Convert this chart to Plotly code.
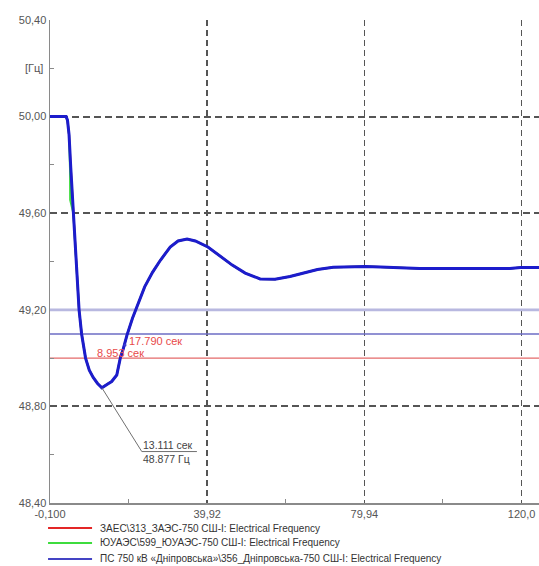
import plotly.graph_objects as go

# ---------------- data ----------------
time_dnipro = [-0.1, 4.0, 4.35, 4.75, 5.18, 5.5, 5.84, 6.27, 6.55, 7.3, 7.95, 8.953, 9.9, 10.9, 12.0,
               13.111, 14.6, 15.6, 16.9, 17.79, 18.5, 19.5, 20.9, 22.8, 24.0, 26.0, 28.0, 30.5, 32.5,
               34.8, 36.9, 40.1, 43.2, 46.3, 49.6, 53.4, 57.2, 61.0, 64.0, 68.0, 72.0, 76.4, 80.2,
               84.0, 89.0, 94.0, 102.0, 117.0, 119.7, 124.4]
freq_dnipro = [50.0, 50.0, 49.985, 49.925, 49.79, 49.70, 49.60, 49.49, 49.405, 49.20, 49.10, 49.0, 48.95,
               48.92, 48.895, 48.877, 48.893, 48.903, 48.93, 49.0, 49.035, 49.095, 49.165, 49.24, 49.295,
               49.355, 49.405, 49.46, 49.485, 49.493, 49.485, 49.46, 49.423, 49.385, 49.352, 49.328,
               49.327, 49.338, 49.35, 49.367, 49.376, 49.379, 49.379, 49.377, 49.373, 49.371, 49.371,
               49.371, 49.375, 49.375]

time_zaes = [-0.1, 4.0, 4.35, 4.75, 5.18, 5.5, 5.84, 6.27, 6.55, 7.3, 7.95, 8.953, 9.9, 10.9, 12.0,
             13.111, 14.6, 15.6, 16.9, 17.79, 18.5, 19.5, 20.9, 22.8, 24.0, 26.0, 28.0, 30.5, 32.5,
             34.8, 36.9, 40.1, 43.2, 46.3, 49.6, 53.4, 57.2, 61.0, 64.0, 68.0, 72.0, 76.4, 80.2,
             84.0, 89.0, 94.0, 102.0, 117.0, 119.7, 124.4]
freq_zaes = [50.0, 50.0, 49.985, 49.925, 49.79, 49.70, 49.60, 49.49, 49.405, 49.20, 49.10, 49.0, 48.95,
             48.92, 48.895, 48.877, 48.893, 48.903, 48.93, 49.0, 49.035, 49.095, 49.165, 49.24, 49.295,
             49.355, 49.405, 49.46, 49.485, 49.493, 49.485, 49.46, 49.423, 49.385, 49.352, 49.328,
             49.327, 49.338, 49.35, 49.367, 49.376, 49.379, 49.379, 49.377, 49.373, 49.371, 49.371,
             49.371, 49.375, 49.375]

time_yuaes = [-0.1, 4.0, 4.35, 4.75, 5.0, 5.03, 5.84, 6.27, 6.55, 7.3, 7.95, 8.953, 9.9, 10.9, 12.0,
              13.111, 14.6, 15.6, 16.9, 17.79, 18.5, 19.5, 20.9, 22.8, 24.0, 26.0, 28.0, 30.5, 32.5,
              34.8, 36.9, 40.1, 43.2, 46.3, 49.6, 53.4, 57.2, 61.0, 64.0, 68.0, 72.0, 76.4, 80.2,
              84.0, 89.0, 94.0, 102.0, 117.0, 119.7, 124.4]
freq_yuaes = [50.0, 50.0, 49.985, 49.925, 49.78, 49.655, 49.60, 49.49, 49.405, 49.20, 49.10, 49.0, 48.95,
              48.92, 48.895, 48.877, 48.893, 48.903, 48.93, 49.0, 49.035, 49.095, 49.165, 49.24, 49.295,
              49.355, 49.405, 49.46, 49.485, 49.493, 49.485, 49.46, 49.423, 49.385, 49.352, 49.328,
              49.327, 49.338, 49.35, 49.367, 49.376, 49.379, 49.379, 49.377, 49.373, 49.371, 49.371,
              49.371, 49.375, 49.375]

series_names = [
    "ЗАЕС\\313_ЗАЭС-750 СШ-I: Electrical Frequency",
    "ЮУАЭС\\599_ЮУАЭС-750 СШ-I: Electrical Frequency",
    "ПС 750 кВ «Дніпровська»\\356_Дніпровська-750 СШ-I: Electrical Frequency",
]
series_colors = ["#e32626", "#3ddc3d", "#1c1ccc"]
legend_colors = ["#e32626", "#3ddc3d", "#4444c4"]

x_range = [-0.1, 124.4]
x_tickvals = [-0.1, 39.92, 79.94, 119.96]
x_ticktext = ["-0,100", "39,92", "79,94", "120,0"]
x_minor = [19.91, 59.93, 99.95]
y_range = [48.4, 50.4]
y_tickvals = [48.4, 48.8, 49.2, 49.6, 50.0, 50.4]
y_ticktext = ["48,40", "48,80", "49,20", "49,60", "50,00", "50,40"]
y_minor = [48.6, 49.0, 49.4, 49.8, 50.2]
y_unit = "[Гц]"

threshold_vals = [49.2, 49.1, 49.0]
threshold_colors = ["#b8b8e0", "#6c6cc4", "#e46a6a"]
threshold_widths = [2.8, 1.5, 1.3]

cross_times = [8.953, 17.790]
min_time = 13.111
min_freq = 48.877

FONT = "Liberation Sans, Arial, sans-serif"

fig = go.Figure()
# threshold lines (above the grid, below the curves)
for v, c, w in zip(threshold_vals, threshold_colors, threshold_widths):
    fig.add_trace(go.Scatter(x=x_range, y=[v, v], mode="lines", line=dict(color=c, width=w),
                             showlegend=False, hoverinfo="skip"))

fig.add_trace(go.Scatter(x=time_zaes, y=freq_zaes, mode="lines",
                         line=dict(color=series_colors[0], width=2), name=series_names[0], showlegend=False))
fig.add_trace(go.Scatter(x=time_yuaes, y=freq_yuaes, mode="lines",
                         line=dict(color=series_colors[1], width=2), name=series_names[1], showlegend=False))
fig.add_trace(go.Scatter(x=time_dnipro, y=freq_dnipro, mode="lines",
                         line=dict(color=series_colors[2], width=3), name=series_names[2], showlegend=False))
# small marker dot near the second crossing label
fig.add_trace(go.Scatter(x=[19.0], y=[49.054], mode="markers",
                         marker=dict(color="#3a3ad0", size=3), showlegend=False, hoverinfo="skip"))

shapes = []
# leader line for minimum
shapes.append(dict(type="line", xref="x", yref="y", x0=min_time, y0=min_freq, x1=23.27, y1=48.613,
                   line=dict(color="#707070", width=1)))
shapes.append(dict(type="line", xref="x", yref="y", x0=23.27, y0=48.613, x1=37.3, y1=48.613,
                   line=dict(color="#707070", width=1)))

# custom legend
legend_y = [-0.0518, -0.0828, -0.1159]
for yy, c in zip(legend_y, legend_colors):
    shapes.append(dict(type="line", xref="paper", yref="paper", x0=-0.004, x1=0.086, y0=yy, y1=yy,
                       line=dict(color=c, width=2)))

annotations = [
    dict(xref="paper", x=0, y=50.2, yref="y", text=y_unit, showarrow=False, xanchor="right",
         xshift=-5, font=dict(family=FONT, size=11, color="#555555")),
    dict(x=11.4, y=49.021, text=f"{cross_times[0]:.3f} сек", showarrow=False, xanchor="left",
         yanchor="middle", font=dict(family=FONT, size=11, color="#e84a4a")),
    dict(x=19.5, y=49.07, text=f"{cross_times[1]:.3f} сек", showarrow=False, xanchor="left",
         yanchor="middle", font=dict(family=FONT, size=11, color="#e84a4a")),
    dict(x=23.27, y=48.613, text=f"{min_time:.3f} сек", showarrow=False, xanchor="left",
         yanchor="bottom", borderpad=0, font=dict(family=FONT, size=10.5, color="#444444")),
    dict(x=23.27, y=48.613, text=f"{min_freq:.3f} Гц", showarrow=False, xanchor="left",
         yanchor="top", borderpad=0, font=dict(family=FONT, size=10.5, color="#444444")),
]
for yy, name in zip(legend_y, series_names):
    annotations.append(dict(xref="paper", yref="paper", x=0.098, y=yy, text=name, showarrow=False,
                            xanchor="left", yanchor="middle",
                            font=dict(family=FONT, size=10, color="#333333")))

fig.update_layout(
    width=539, height=566,
    margin=dict(l=50, r=0, t=20, b=63, autoexpand=False),
    paper_bgcolor="white", plot_bgcolor="white",
    font=dict(family=FONT, size=11, color="#555555"),
    shapes=shapes, annotations=annotations,
    showlegend=False,
    xaxis=dict(range=x_range, tickvals=x_tickvals, ticktext=x_ticktext, automargin=False,
               showgrid=True, gridcolor="#555555", griddash="6px,4px", gridwidth=1.5,
               showline=True, linecolor="#8a8a8a", linewidth=1.5, ticks="", zeroline=False,
               minor=dict(tickvals=x_minor, ticks="inside", ticklen=4, tickcolor="#8a8a8a",
                          showgrid=False),
               tickfont=dict(family=FONT, size=11, color="#555555")),
    yaxis=dict(range=y_range, tickvals=y_tickvals, ticktext=y_ticktext, automargin=False,
               showgrid=True, gridcolor="#555555", griddash="7px,4px", gridwidth=2,
               showline=True, linecolor="#8a8a8a", linewidth=1.5, ticks="", zeroline=False,
               minor=dict(tickvals=y_minor, ticks="inside", ticklen=4, tickcolor="#8a8a8a",
                          showgrid=False),
               tickfont=dict(family=FONT, size=11, color="#555555")),
)

# remove the default page margin so the 539x566 figure fills the window exactly
fig.write_html("out.html", config={"displayModeBar": False, "staticPlot": True},
               post_script="document.body.style.margin='0';document.body.style.overflow='hidden';")
